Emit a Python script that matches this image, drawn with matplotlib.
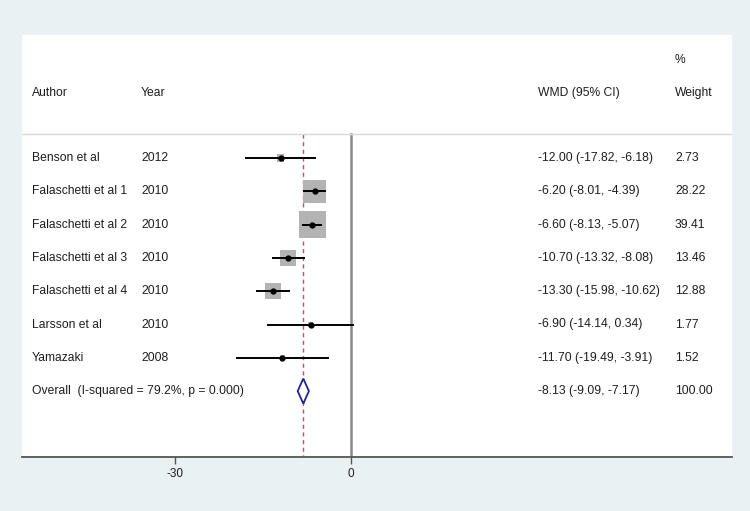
import matplotlib
matplotlib.use("Agg")
import matplotlib.pyplot as plt
from matplotlib.patches import Polygon

plt.rcParams['font.family'] = ['Liberation Sans', 'DejaVu Sans']

authors = ["Benson et al", "Falaschetti et al 1", "Falaschetti et al 2", "Falaschetti et al 3",
           "Falaschetti et al 4", "Larsson et al", "Yamazaki"]
years = ["2012", "2010", "2010", "2010", "2010", "2010", "2008"]
wmd = [-12.00, -6.20, -6.60, -10.70, -13.30, -6.90, -11.70]
ci_lo = [-17.82, -8.01, -8.13, -13.32, -15.98, -14.14, -19.49]
ci_hi = [-6.18, -4.39, -5.07, -8.08, -10.62, 0.34, -3.91]
weights = [2.73, 28.22, 39.41, 13.46, 12.88, 1.77, 1.52]

overall_label = "Overall  (I-squared = 79.2%, p = 0.000)"
overall_est = -8.13
overall_lo = -9.09
overall_hi = -7.17
overall_weight = 100.00

xticks = [-30, 0]

BG = '#e9f1f3'
TXT = '#1e1e1e'
fig = plt.figure(figsize=(7.5, 5.11), dpi=100, facecolor=BG)
# white panel from x=22..732 px, y=35..457 px
ax = fig.add_axes([22 / 750, 1 - 457 / 511, 710 / 750, 422 / 511])
ax.set_facecolor('white')

px_per_unit = 176 / 30.0
ax.set_xlim((22 - 351) / px_per_unit, (732 - 351) / px_per_unit)
row_h = 33.3
ax.set_ylim(1 + (457 - 158) / row_h, 1 - (158 - 35) / row_h)

rows = list(range(1, len(authors) + 1))
overall_row = len(authors) + 1
top_line = 1 - (158 - 134) / row_h

for s in ['top', 'left', 'right']:
    ax.spines[s].set_visible(False)
ax.spines['bottom'].set_color('#555555')
ax.spines['bottom'].set_linewidth(1.3)
ax.set_yticks([])
ax.set_xticks(xticks)
ax.set_xticklabels([str(t) for t in xticks], fontsize=8.5, color=TXT)
ax.tick_params(axis='x', length=5, width=1, color='#555555', pad=3)

# separator line under header
ax.axhline(top_line, color='#d8d8d8', linewidth=1)

# null line and overall line
ax.plot([0, 0], [top_line, ax.get_ylim()[0]], color='#8a8a8a', linewidth=1.8, zorder=1)
ax.plot([overall_est, overall_est], [top_line, ax.get_ylim()[0]], color='#c8506e',
        linewidth=1.0, linestyle=(0, (3, 2.5)), zorder=1)

# squares sized by weight
sq_scale = 377 / 39.41
ax.scatter(wmd, rows, s=[w * sq_scale for w in weights], marker='s', color='#b3b3b3',
           edgecolors='none', zorder=2)
for r, lo, hi in zip(rows, ci_lo, ci_hi):
    ax.plot([lo, hi], [r, r], color='black', linewidth=1.4, zorder=3)
ax.plot(wmd, rows, 'o', color='black', markersize=3.5, zorder=4)

# overall diamond
h = 12.5 / row_h
diamond = Polygon([(overall_lo, overall_row), (overall_est, overall_row - h),
                   (overall_hi, overall_row), (overall_est, overall_row + h)],
                  closed=True, facecolor='white', edgecolor='#22228a', linewidth=1.3, zorder=3)
ax.add_patch(diamond)

fs = 8.7
def xpos(px):
    return (px - 351) / px_per_unit

header_row = 1 - (158 - 93) / row_h
pct_row = 1 - (158 - 60) / row_h
ax.text(xpos(32), header_row, "Author", fontsize=fs, va='center', color=TXT)
ax.text(xpos(141), header_row, "Year", fontsize=fs, va='center', color=TXT)
ax.text(xpos(538), header_row, "WMD (95% CI)", fontsize=fs, va='center', color=TXT)
ax.text(xpos(675), header_row, "Weight", fontsize=fs, va='center', color=TXT)
ax.text(xpos(675), pct_row, "%", fontsize=fs, va='center', color=TXT)

for r, a, yr, e, lo, hi, w in zip(rows, authors, years, wmd, ci_lo, ci_hi, weights):
    ax.text(xpos(32), r, a, fontsize=fs, va='center', color=TXT)
    ax.text(xpos(141), r, yr, fontsize=fs, va='center', color=TXT)
    ax.text(xpos(538), r, f"{e:.2f} ({lo:.2f}, {hi:.2f})", fontsize=fs, va='center', color=TXT)
    ax.text(xpos(675), r, f"{w:.2f}", fontsize=fs, va='center', color=TXT)

ax.text(xpos(32), overall_row, overall_label, fontsize=fs, va='center', color=TXT)
ax.text(xpos(538), overall_row, f"{overall_est:.2f} ({overall_lo:.2f}, {overall_hi:.2f})",
        fontsize=fs, va='center', color=TXT)
ax.text(xpos(675), overall_row, f"{overall_weight:.2f}", fontsize=fs, va='center', color=TXT)

fig.savefig("out.png", dpi=100, facecolor=BG)
